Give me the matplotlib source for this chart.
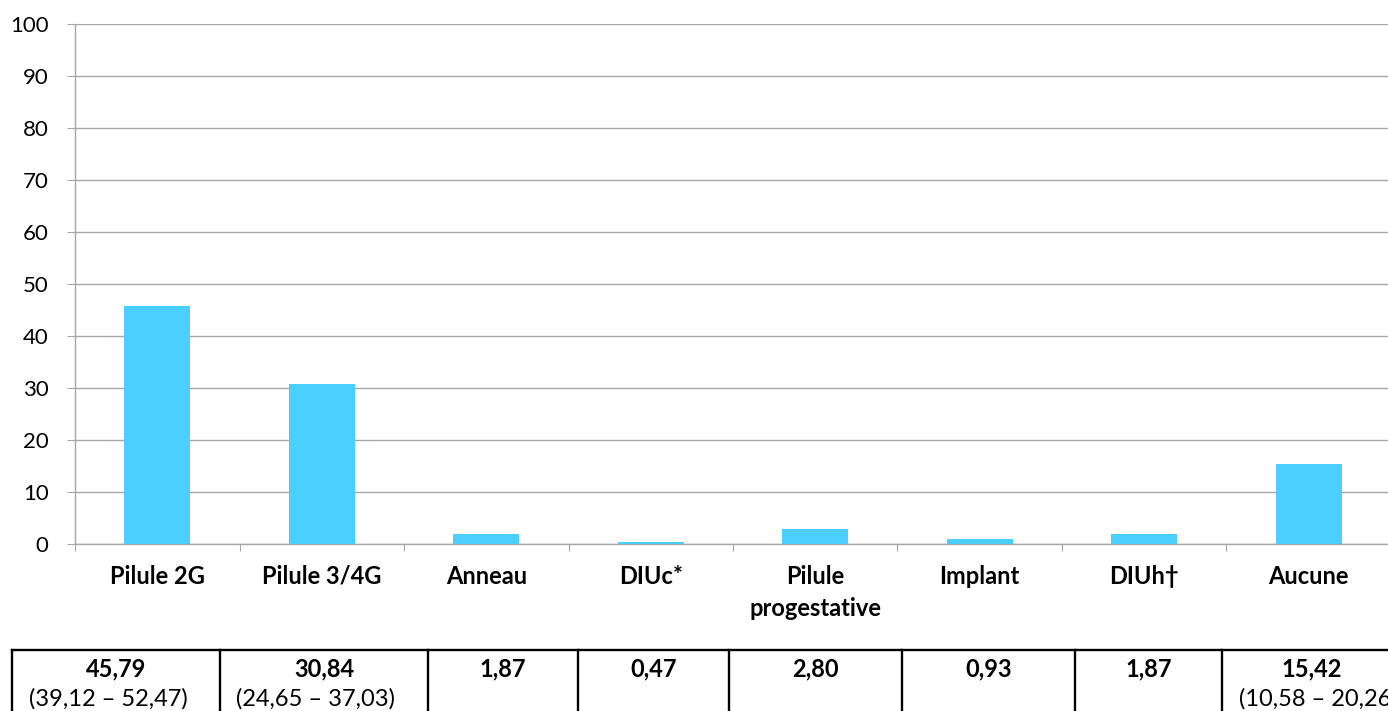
import matplotlib
matplotlib.use("Agg")
import matplotlib.pyplot as plt
import numpy as np

plt.rcParams['font.family'] = ['Lato', 'DejaVu Sans']

# data
categories = ["Pilule 2G", "Pilule 3/4G", "Anneau", "DIUc*", "Pilule\nprogestative",
              "Implant", "DIUh\u2020", "Aucune"]
values = [45.79, 30.84, 1.87, 0.47, 2.80, 0.93, 1.87, 15.42]
value_labels = ["45,79", "30,84", "1,87", "0,47", "2,80", "0,93", "1,87", "15,42"]
ci_labels = ["(39,12 \u2013 52,47)", "(24,65 \u2013 37,03)", "", "", "", "", "", "(10,58 \u2013 20,26)"]
yticks = list(range(0, 101, 10))

# layout of the table under the chart (pixel columns)
col_edges = [12, 220, 428, 578, 729, 902, 1075, 1222, 1420]

W, H = 1388, 711
fig = plt.figure(figsize=(W / 100, H / 100), dpi=100)

grid_col = "#a6a6a6"
bar_col = "#4acfff"

ax = fig.add_axes([75 / W, (H - 544) / H, (1391 - 75) / W, 520 / H])
x = np.arange(len(categories))
ax.bar(x, values, width=0.4, color=bar_col, zorder=3)
ax.set_xlim(-0.5, len(categories) - 0.5)
ax.set_ylim(0, 100)
ax.set_yticks(yticks)
ax.yaxis.grid(True, color=grid_col, linewidth=1.0, zorder=0)
for s in ["top", "right"]:
    ax.spines[s].set_visible(False)
for s in ["left", "bottom"]:
    ax.spines[s].set_color(grid_col)
    ax.spines[s].set_linewidth(1.0)
ax.tick_params(axis="y", length=6, color=grid_col, pad=13, labelsize=16)

# boundaries as major ticks, labels on minor ticks
ax.set_xticks(np.arange(len(categories) + 1) - 0.5)
ax.set_xticklabels([])
ax.tick_params(axis="x", which="major", length=5, color=grid_col, direction="out")
ax.set_xticks(x, minor=True)
ax.set_xticklabels(categories, minor=True, fontweight="bold", fontsize=17, linespacing=1.5)
ax.tick_params(axis="x", which="minor", length=0, pad=15)

# table under the chart
tax = fig.add_axes([0, 0, 1, (H - 646) / H])
tax.set_xlim(0, W)
tax.set_ylim(H, 646)
tax.axis("off")
tax.plot([col_edges[0], W + 5], [649.5, 649.5], color="black", lw=1.7, clip_on=False)
for e in col_edges[:-1]:
    tax.plot([e, e], [649.5, H + 5], color="black", lw=1.7, clip_on=False)
for i in range(len(value_labels)):
    cx = (col_edges[i] + col_edges[i + 1]) / 2
    ci_x = cx - 8
    if i == len(value_labels) - 1:
        cx = 1312
        ci_x = 1318
    tax.text(cx, 669, value_labels[i], ha="center", va="center", fontweight="bold",
             fontsize=17, clip_on=True)
    if ci_labels[i]:
        tax.text(ci_x, 699, ci_labels[i], ha="center", va="center", fontsize=17, clip_on=True)

fig.savefig("out.png", dpi=100)
